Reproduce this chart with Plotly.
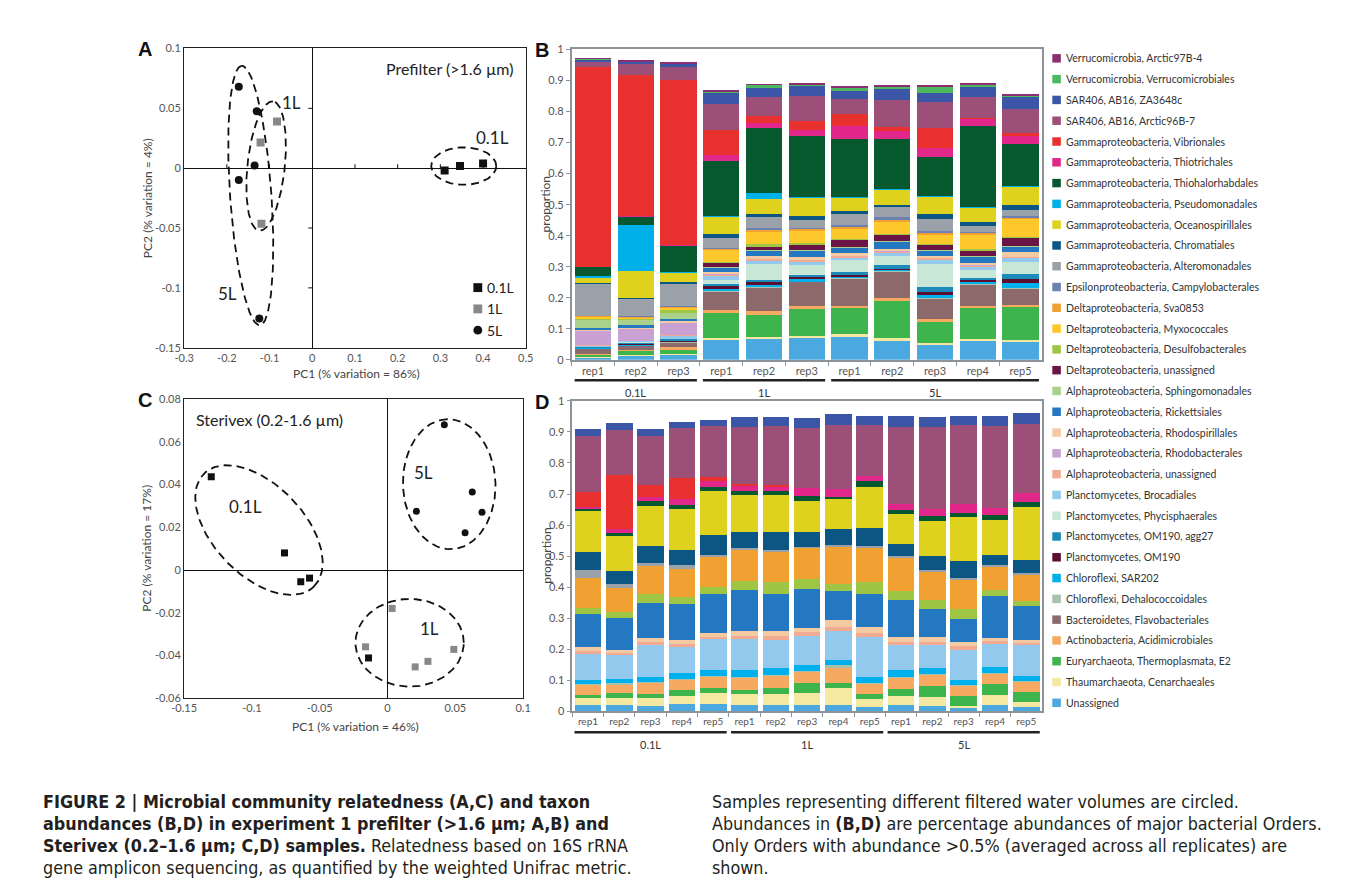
import math
import plotly.graph_objects as go

W, H = 1357, 881
def fx(p): return p / W
def fy(p): return 1 - p / H

# ---------------- taxa (legend order, top to bottom) ----------------
taxa = [
    "Verrucomicrobia, Arctic97B-4", "Verrucomicrobia, Verrucomicrobiales",
    "SAR406, AB16, ZA3648c", "SAR406, AB16, Arctic96B-7",
    "Gammaproteobacteria, Vibrionales", "Gammaproteobacteria, Thiotrichales",
    "Gammaproteobacteria, Thiohalorhabdales", "Gammaproteobacteria, Pseudomonadales",
    "Gammaproteobacteria, Oceanospirillales", "Gammaproteobacteria, Chromatiales",
    "Gammaproteobacteria, Alteromonadales", "Epsilonproteobacteria, Campylobacterales",
    "Deltaproteobacteria, Sva0853", "Deltaproteobacteria, Myxococcales",
    "Deltaproteobacteria, Desulfobacterales", "Deltaproteobacteria, unassigned",
    "Alphaproteobacteria, Sphingomonadales", "Alphaproteobacteria, Rickettsiales",
    "Alphaproteobacteria, Rhodospirillales", "Alphaproteobacteria, Rhodobacterales",
    "Alphaproteobacteria, unassigned", "Planctomycetes, Brocadiales",
    "Planctomycetes, Phycisphaerales", "Planctomycetes, OM190, agg27",
    "Planctomycetes, OM190", "Chloroflexi, SAR202", "Chloroflexi, Dehalococcoidales",
    "Bacteroidetes, Flavobacteriales", "Actinobacteria, Acidimicrobiales",
    "Euryarchaeota, Thermoplasmata, E2", "Thaumarchaeota, Cenarchaeales", "Unassigned",
]
taxa_colors = [
    "#8b2f72", "#4cb860", "#3b56a6", "#9c5078", "#e8302e", "#e2278b", "#06592f",
    "#00b1e9", "#ded21f", "#0b5682", "#9aa1a9", "#6c80b2", "#f0a131", "#fec82c",
    "#9fc545", "#6b1446", "#a9d18c", "#2477c1", "#f4caa3", "#c9a2d3", "#f2aa92",
    "#92c9ec", "#c9e7d6", "#1b8bb9", "#5b1030", "#00b0ec", "#a9c1aa", "#8c6a6c",
    "#f5a961", "#3db54c", "#f5e9a2", "#4ba9e0",
]

# ---------------- panel B (prefilter) ----------------
b_groups = ["0.1L", "0.1L", "0.1L", "1L", "1L", "1L", "5L", "5L", "5L", "5L", "5L"]
b_reps = ["rep1", "rep2", "rep3", "rep1", "rep2", "rep3", "rep1", "rep2", "rep3", "rep4", "rep5"]
b_unassigned = [.007, .014, .015, .063, .067, .072, .075, .062, .048, .060, .058]
b_thaum = [.002, .003, .003, .006, .006, .006, .007, .007, .005, .008, .005]
b_eury = [.006, .010, .014, .083, .072, .085, .084, .121, .069, .098, .107]
b_actino = [.005, .005, .008, .008, .013, .012, .006, .010, .010, .009, .008]
b_bact = [.015, .013, .015, .058, .074, .075, .089, .083, .064, .065, .050]
b_dehalo = [.001, .001, .002, .003, .002, .002, .002, .002, .003, .003, .002]
b_sar202 = [.001, .002, .002, .008, .006, .009, .003, .003, .011, .008, .019]
b_om190 = [.001, .002, .003, .008, .012, .005, .007, .006, .010, .006, .010]
b_agg27 = [.002, .004, .004, .008, .006, .006, .010, .013, .016, .007, .019]
b_phyc = [.002, .002, .002, .013, .050, .034, .039, .028, .074, .025, .036]
b_broc = [.004, .004, .009, .013, .012, .010, .007, .010, .012, .010, .013]
b_alphaun = [.002, .002, .003, .004, .004, .005, .004, .003, .005, .004, .003]
b_rhodob = [.044, .036, .040, .002, .002, .002, .002, .002, .002, .002, .002]
b_rhodosp = [.004, .005, .005, .006, .008, .008, .008, .008, .007, .008, .017]
b_rick = [.007, .010, .007, .013, .016, .020, .018, .022, .015, .018, .016]
b_sphingo = [.025, .015, .018, .004, .003, .004, .004, .003, .003, .003, .003]
b_deltaun = [.002, .002, .002, .012, .012, .014, .020, .020, .015, .018, .023]
b_desulfo = [.002, .002, .008, .004, .008, .007, .004, .004, .003, .004, .004]
b_myxo = [.005, .004, .007, .038, .040, .040, .034, .038, .030, .046, .058]
b_sva = [.004, .003, .004, .004, .005, .005, .005, .007, .006, .007, .005]
b_eps = [.001, .001, .003, .003, .006, .005, .006, .008, .006, .004, .004]
b_altero = [.103, .055, .070, .030, .035, .026, .036, .033, .040, .018, .020]
b_chrom = [.004, .004, .006, .013, .011, .011, .008, .007, .016, .012, .016]
b_ocean = [.016, .088, .031, .055, .049, .060, .044, .048, .055, .046, .060]
b_pseudo = [.006, .147, .003, .003, .018, .002, .002, .002, .002, .003, .002]
b_thiohal = [.027, .027, .083, .179, .210, .196, .188, .160, .125, .260, .137]
b_thiotr = [.001, .001, .004, .018, .015, .020, .040, .026, .029, .023, .025]
b_vibrio = [.644, .457, .531, .082, .023, .030, .039, .013, .066, .003, .010]
b_arctic96 = [.017, .034, .040, .083, .061, .078, .048, .087, .084, .068, .075]
b_za = [.007, .007, .010, .035, .031, .032, .027, .037, .030, .033, .040]
b_verr = [.001, .001, .002, .004, .007, .006, .010, .006, .017, .006, .004]
b_arctic97 = [.002, .002, .004, .008, .003, .004, .005, .005, .008, .006, .005]

# ---------------- panel D (Sterivex) ----------------
d_groups = ["0.1L"] * 5 + ["1L"] * 5 + ["5L"] * 5
d_reps = ["rep1", "rep2", "rep3", "rep4", "rep5"] * 3
d_unassigned = [.021, .019, .017, .023, .023, .019, .021, .019, .021, .013, .019, .016, .011, .021, .014]
d_thaum = [.023, .025, .027, .027, .037, .036, .034, .039, .053, .026, .029, .030, .007, .030, .015]
d_eury = [.009, .016, .012, .018, .014, .015, .019, .032, .016, .016, .023, .037, .030, .036, .034]
d_actino = [.032, .028, .036, .034, .038, .038, .040, .037, .050, .035, .037, .035, .035, .035, .033]
d_bact = [0, 0, 0, 0, 0, 0, 0, 0, 0, 0, 0, 0, 0, 0, 0]
d_dehalo = [.003, .002, .002, .003, .002, .002, .002, .002, .008, .002, .003, .003, .002, .002, .002]
d_sar202 = [.012, .014, .016, .017, .018, .022, .024, .021, .018, .019, .021, .017, .015, .019, .016]
d_om190 = [0, 0, 0, 0, 0, 0, 0, 0, 0, 0, 0, 0, 0, 0, 0]
d_agg27 = [0, 0, 0, 0, 0, 0, 0, 0, 0, 0, 0, 0, 0, 0, 0]
d_phyc = [0, 0, 0, 0, 0, 0, 0, 0, 0, 0, 0, 0, 0, 0, 0]
d_broc = [.085, .078, .104, .084, .100, .103, .090, .091, .092, .127, .083, .077, .099, .076, .098]
d_alphaun = [.010, .006, .008, .010, .008, .006, .013, .013, .015, .014, .009, .007, .011, .006, .008]
d_rhodob = [0, 0, 0, 0, 0, 0, 0, 0, 0, 0, 0, 0, 0, 0, 0]
d_rhodosp = [.012, .010, .014, .014, .012, .017, .016, .015, .020, .018, .014, .016, .012, .011, .011]
d_rick = [.107, .104, .113, .116, .126, .134, .119, .126, .095, .108, .122, .093, .076, .136, .108]
d_sphingo = [0, 0, 0, 0, 0, 0, 0, 0, 0, 0, 0, 0, 0, 0, 0]
d_deltaun = [0, 0, 0, 0, 0, 0, 0, 0, 0, 0, 0, 0, 0, 0, 0]
d_desulfo = [.019, .018, .030, .023, .022, .028, .037, .031, .022, .038, .029, .026, .030, .020, .016]
d_myxo = [0, 0, 0, 0, 0, 0, 0, 0, 0, 0, 0, 0, 0, 0, 0]
d_sva = [.097, .077, .090, .090, .096, .100, .100, .101, .122, .112, .108, .093, .097, .076, .087]
d_eps = [0, 0, 0, 0, 0, 0, 0, 0, 0, 0, 0, 0, 0, 0, 0]
d_altero = [.025, .014, .010, .011, .009, .005, .006, .003, .005, .006, .003, .004, .004, .003, .003]
d_chrom = [.058, .041, .055, .050, .064, .054, .057, .049, .050, .058, .040, .045, .055, .034, .043]
d_ocean = [.132, .114, .129, .133, .140, .117, .120, .099, .096, .132, .095, .113, .142, .111, .169]
d_pseudo = [0, 0, 0, 0, 0, 0, 0, 0, 0, 0, 0, 0, 0, 0, 0]
d_thiohal = [.009, .009, .015, .011, .014, .013, .013, .016, .009, .018, .013, .016, .014, .016, .016]
d_thiotr = [.005, .012, .013, .021, .018, .019, .014, .024, .025, .016, .019, .025, .027, .024, .030]
d_vibrio = [.049, .173, .037, .067, .013, .004, .004, 0, 0, 0, 0, 0, 0, 0, 0]
d_arctic96 = [.179, .147, .160, .160, .164, .183, .191, .196, .204, .166, .248, .262, .256, .262, .224]
d_za = [.021, .021, .020, .021, .022, .034, .028, .030, .038, .028, .036, .034, .029, .034, .034]
d_verr = [0, 0, 0, 0, 0, 0, 0, 0, 0, 0, 0, 0, 0, 0, 0]
d_arctic97 = [0, 0, 0, 0, 0, 0, 0, 0, 0, 0, 0, 0, 0, 0, 0]

# ---------------- PCoA scores ----------------
a_x_01 = [0.310, 0.346, 0.400]
a_y_01 = [-0.002, 0.0018, 0.004]
a_x_1 = [-0.0825, -0.121, -0.119]
a_y_1 = [0.039, 0.0215, -0.0465]
a_x_5 = [-0.172, -0.130, -0.135, -0.172, -0.124]
a_y_5 = [0.068, 0.0476, 0.0023, -0.0098, -0.1256]

c_x_01 = [-0.130, -0.076, -0.064, -0.0575, -0.014]
c_y_01 = [0.0437, 0.008, -0.0055, -0.0038, -0.0412]
c_x_1 = [0.0034, -0.0162, 0.0204, 0.0298, 0.0489]
c_y_1 = [-0.018, -0.036, -0.0454, -0.0428, -0.0372]
c_x_5 = [0.0419, 0.0625, 0.0697, 0.0213, 0.0572]
c_y_5 = [0.068, 0.0365, 0.0271, 0.0275, 0.0175]

# ---------------- layout geometry (pixels) ----------------
A_box = (165.7, 512.7, 34.0, 337.7)     # left, right, top, bottom
C_box = (165.7, 510.0, 390.0, 693.3)
B_box = (559.3, 1037.0, 35.0, 350.0)
D_box = (560.0, 1037.0, 391.7, 706.7)
A_xr, A_yr = (-0.3, 0.5), (-0.15, 0.1)
C_xr, C_yr = (-0.15, 0.1), (-0.06, 0.08)

# ellipse decorations: centre (data), semi-axes (px), rotation (deg)
a_ellipses = [(-0.144, -0.0229, 132, 21, 94), (-0.108, 0.0018, 66, 19, 84), (0.3548, 0.0018, 33, 19, 0)]
c_ellipses = [(-0.0948, 0.0187, 80, 46, -46), (0.0455, 0.0402, 66, 47, 92), (0.0163, -0.0341, 55, 44.5, 0)]

FONT = "Lato, Open Sans, sans-serif"
TICKC = "#555555"
FRAME = "#8d9399"

fig = go.Figure()

b_series = [b_arctic97, b_verr, b_za, b_arctic96, b_vibrio, b_thiotr, b_thiohal, b_pseudo,
            b_ocean, b_chrom, b_altero, b_eps, b_sva, b_myxo, b_desulfo, b_deltaun,
            b_sphingo, b_rick, b_rhodosp, b_rhodob, b_alphaun, b_broc, b_phyc, b_agg27,
            b_om190, b_sar202, b_dehalo, b_bact, b_actino, b_eury, b_thaum, b_unassigned]
d_series = [d_arctic97, d_verr, d_za, d_arctic96, d_vibrio, d_thiotr, d_thiohal, d_pseudo,
            d_ocean, d_chrom, d_altero, d_eps, d_sva, d_myxo, d_desulfo, d_deltaun,
            d_sphingo, d_rick, d_rhodosp, d_rhodob, d_alphaun, d_broc, d_phyc, d_agg27,
            d_om190, d_sar202, d_dehalo, d_bact, d_actino, d_eury, d_thaum, d_unassigned]

b_ids = [g + " " + r for g, r in zip(b_groups, b_reps)]
d_ids = [g + " " + r for g, r in zip(d_groups, d_reps)]

# stacked bars: bottom of stack = last legend entry
for i in range(len(taxa) - 1, -1, -1):
    fig.add_trace(go.Bar(x=b_ids, y=b_series[i], marker=dict(color=taxa_colors[i], line=dict(width=0)),
                         name=taxa[i], showlegend=False, xaxis="x2", yaxis="y2"))
    fig.add_trace(go.Bar(x=d_ids, y=d_series[i], marker=dict(color=taxa_colors[i], line=dict(width=0)),
                         name=taxa[i], showlegend=False, xaxis="x4", yaxis="y4"))


def ellipse_xy(e, box, xr, yr, n=160):
    cx, cy, a, b, ang = e
    sx = (box[1] - box[0]) / (xr[1] - xr[0])
    sy = (box[3] - box[2]) / (yr[1] - yr[0])
    th = math.radians(ang)
    xs, ys = [], []
    for k in range(n + 1):
        t = 2 * math.pi * k / n
        dx = a * math.cos(th) * math.cos(t) - b * math.sin(th) * math.sin(t)
        dy = a * math.sin(th) * math.cos(t) + b * math.cos(th) * math.sin(t)
        xs.append(cx + dx / sx)
        ys.append(cy + dy / sy)
    return xs, ys


for e in a_ellipses:
    ex, ey = ellipse_xy(e, A_box, A_xr, A_yr)
    fig.add_trace(go.Scatter(x=ex, y=ey, mode="lines", line=dict(color="#111", width=1.8, dash="8px,5px"),
                             hoverinfo="skip", showlegend=False, xaxis="x", yaxis="y"))
for e in c_ellipses:
    ex, ey = ellipse_xy(e, C_box, C_xr, C_yr)
    fig.add_trace(go.Scatter(x=ex, y=ey, mode="lines", line=dict(color="#111", width=1.8, dash="8px,5px"),
                             hoverinfo="skip", showlegend=False, xaxis="x3", yaxis="y3"))

GRAYPT = "#888888"
fig.add_trace(go.Scatter(x=a_x_01, y=a_y_01, mode="markers", marker=dict(symbol="square", size=8, color="#111"),
                         showlegend=False, xaxis="x", yaxis="y"))
fig.add_trace(go.Scatter(x=a_x_1, y=a_y_1, mode="markers", marker=dict(symbol="square", size=8, color=GRAYPT),
                         showlegend=False, xaxis="x", yaxis="y"))
fig.add_trace(go.Scatter(x=a_x_5, y=a_y_5, mode="markers", marker=dict(symbol="circle", size=8, color="#111"),
                         showlegend=False, xaxis="x", yaxis="y"))
fig.add_trace(go.Scatter(x=c_x_01, y=c_y_01, mode="markers", marker=dict(symbol="square", size=7, color="#111"),
                         showlegend=False, xaxis="x3", yaxis="y3"))
fig.add_trace(go.Scatter(x=c_x_1, y=c_y_1, mode="markers", marker=dict(symbol="square", size=7, color=GRAYPT),
                         showlegend=False, xaxis="x3", yaxis="y3"))
fig.add_trace(go.Scatter(x=c_x_5, y=c_y_5, mode="markers", marker=dict(symbol="circle", size=7, color="#111"),
                         showlegend=False, xaxis="x3", yaxis="y3"))


def num_label(v):
    return "%g" % v


def scatter_axes(box, xr, yr, xt, yt):
    xa = dict(domain=[fx(box[0]), fx(box[1])], range=list(xr), showgrid=False, zeroline=True,
              zerolinecolor="#111", zerolinewidth=1.2, showline=True, mirror=True, linecolor="#222",
              linewidth=1.2, ticks="", tickvals=xt, ticktext=[num_label(v) for v in xt],
              tickfont=dict(family=FONT, size=11, color=TICKC), fixedrange=True)
    ya = dict(domain=[fy(box[3]), fy(box[2])], range=list(yr), showgrid=False, zeroline=True,
              zerolinecolor="#111", zerolinewidth=1.2, showline=True, mirror=True, linecolor="#222",
              linewidth=1.2, ticks="", tickvals=yt, ticktext=[num_label(v) for v in yt],
              tickfont=dict(family=FONT, size=11, color=TICKC), fixedrange=True)
    return xa, ya


a_xt = [-0.3, -0.2, -0.1, 0, 0.1, 0.2, 0.3, 0.4, 0.5]
a_yt = [-0.15, -0.1, -0.05, 0, 0.05, 0.1]
c_xt = [-0.15, -0.1, -0.05, 0, 0.05, 0.1]
c_yt = [-0.06, -0.04, -0.02, 0, 0.02, 0.04, 0.06, 0.08]
xa1, ya1 = scatter_axes(A_box, A_xr, A_yr, a_xt, a_yt)
xa3, ya3 = scatter_axes(C_box, C_xr, C_yr, c_xt, c_yt)
xa1["anchor"] = "y"; ya1["anchor"] = "x"
xa3["anchor"] = "y3"; ya3["anchor"] = "x3"

prop_vals = [0, 0.1, 0.2, 0.3, 0.4, 0.5, 0.6, 0.7, 0.8, 0.9, 1]


def bar_axes(box, ids, reps, xanchor, yanchor, tsize):
    xa = dict(domain=[fx(box[0]), fx(box[1])], type="category", categoryorder="array", categoryarray=ids,
              tickvals=ids, ticktext=reps, tickson="boundaries", ticks="outside", ticklen=4,
              tickcolor=FRAME, showline=True, mirror=True, linecolor=FRAME, linewidth=1.6,
              tickfont=dict(family=FONT, size=tsize, color=TICKC), anchor=yanchor, showgrid=False,
              fixedrange=True)
    ya = dict(domain=[fy(box[3]), fy(box[2])], range=[0, 1], tickvals=prop_vals,
              ticktext=[num_label(v) for v in prop_vals], ticks="outside", ticklen=4, tickcolor=FRAME,
              showline=True, mirror=True, linecolor=FRAME, linewidth=1.6, showgrid=False, zeroline=False,
              tickfont=dict(family=FONT, size=11, color=TICKC), anchor=xanchor, fixedrange=True)
    return xa, ya


xa2, ya2 = bar_axes(B_box, b_ids, b_reps, "x2", "y2", 11)
xa4, ya4 = bar_axes(D_box, d_ids, d_reps, "x4", "y4", 10)

shapes = []
annotations = []

# small tick marks on the zero lines of panel A
sxA = (A_box[1] - A_box[0]) / (A_xr[1] - A_xr[0])
syA = (A_box[3] - A_box[2]) / (A_yr[1] - A_yr[0])
for v in [-0.1, -0.05, 0.05]:
    shapes.append(dict(type="line", xref="x", yref="y", x0=-4 / sxA, x1=0, y0=v, y1=v,
                       line=dict(color="#111", width=1)))
for v in [-0.2, -0.1, 0.1, 0.2, 0.3, 0.4]:
    shapes.append(dict(type="line", xref="x", yref="y", x0=v, x1=v, y0=0, y1=4 / syA,
                       line=dict(color="#111", width=1)))


# group underlines and labels
def group_marks(groups, xref, line_py, label_py):
    order = []
    for g in groups:
        if g not in order:
            order.append(g)
    for g in order:
        idx = [k for k, gg in enumerate(groups) if gg == g]
        x0, x1 = idx[0] - 0.43, idx[-1] + 0.43
        shapes.append(dict(type="line", xref=xref, yref="paper", x0=x0, x1=x1, y0=fy(line_py), y1=fy(line_py),
                           line=dict(color="#222", width=2.6)))
        annotations.append(dict(xref=xref, yref="paper", x=(idx[0] + idx[-1]) / 2, y=fy(label_py), text=g,
                                showarrow=False, font=dict(family=FONT, size=11, color="#333"),
                                xanchor="center", yanchor="middle"))


group_marks(b_groups, "x2", 370.7, 383)
group_marks(d_groups, "x4", 728.0, 740)

# custom legend on the right
for i, (name, col) in enumerate(zip(taxa, taxa_colors)):
    yc = 44 + 21.1 * i
    shapes.append(dict(type="rect", xref="paper", yref="paper", x0=fx(1047.5), x1=fx(1056.2),
                       y0=fy(yc + 4.3), y1=fy(yc - 4.3), fillcolor=col, line=dict(width=0)))
    annotations.append(dict(xref="paper", yref="paper", x=fx(1059), y=fy(yc), text=name, showarrow=False,
                            xanchor="left", yanchor="middle", font=dict(family=FONT, size=10.5, color="#333")))

# panel A symbol key
key_labels = ["0.1L", "1L", "5L"]
key_cols = ["#111", GRAYPT, "#111"]
key_types = ["rect", "rect", "circle"]
for k, (lab, col, typ) in enumerate(zip(key_labels, key_cols, key_types)):
    yc = 276.7 + 21.6 * k
    shapes.append(dict(type=typ, xref="paper", yref="paper", x0=fx(459.5), x1=fx(468.5),
                       y0=fy(yc + 4.5), y1=fy(yc - 4.5), fillcolor=col, line=dict(width=0)))
    annotations.append(dict(xref="paper", yref="paper", x=fx(471.5), y=fy(yc), text=lab, showarrow=False,
                            xanchor="left", yanchor="middle", font=dict(family=FONT, size=14, color="#222")))


def ann(x, y, text, size, color="#222", xanchor="center", angle=0, bold=False, family=FONT, xref="paper",
        yref="paper"):
    t = "<b>" + text + "</b>" if bold else text
    annotations.append(dict(xref=xref, yref=yref, x=x, y=y, text=t, showarrow=False, textangle=angle,
                            xanchor=xanchor, yanchor="middle", font=dict(family=family, size=size, color=color)))


# panel letters
ann(fx(126), fy(35), "A", 20, "#111", bold=True, family="Liberation Sans, Arial")
ann(fx(529), fy(36), "B", 20, "#111", bold=True, family="Liberation Sans, Arial")
ann(fx(126), fy(391), "C", 20, "#111", bold=True, family="Liberation Sans, Arial")
ann(fx(529), fy(393), "D", 20, "#111", bold=True, family="Liberation Sans, Arial")

# axis titles
ann(fx(128), fy((A_box[2] + A_box[3]) / 2), "PC2 (% variation = 4%)", 12, "#444", angle=-90)
ann(fx(341), fy(364), "PC1 (% variation = 86%)", 12, "#444")
ann(fx(128), fy((C_box[2] + C_box[3]) / 2), "PC2 (% variation = 17%)", 12, "#444", angle=-90)
ann(fx(340), fy(722), "PC1 (% variation = 46%)", 12, "#444")
ann(fx(533), fy((B_box[2] + B_box[3]) / 2), "proportion", 12, "#444", angle=-90)
ann(fx(533), fy((D_box[2] + D_box[3]) / 2), "proportion", 12, "#444", angle=-90)

# in-panel texts
ann(fx(503), fy(54), "Prefilter (>1.6 µm)", 16, "#222", xanchor="right")
ann(fx(176), fy(411), "Sterivex (0.2-1.6 µm)", 16, "#222", xanchor="left")
ann(-0.048, 0.055, "1L", 17, "#222", xref="x", yref="y")
ann(0.4228, 0.0258, "0.1L", 17, "#222", xref="x", yref="y")
ann(-0.198, -0.1047, "5L", 17, "#222", xref="x", yref="y")
ann(-0.105, 0.0297, "0.1L", 17, "#222", xref="x3", yref="y3")
ann(0.0262, 0.0457, "5L", 17, "#222", xref="x3", yref="y3")
ann(0.031, -0.0273, "1L", 17, "#222", xref="x3", yref="y3")

# caption
CAP = "DejaVu Sans Condensed, Liberation Sans Narrow, sans-serif"
cap_left = [
    "<b>FIGURE 2 | Microbial community relatedness (A,C) and taxon</b>",
    "<b>abundances (B,D) in experiment 1 prefilter (>1.6 µm; A,B) and</b>",
    "<b>Sterivex (0.2–1.6 µm; C,D) samples.</b> Relatedness based on 16S rRNA",
    "gene amplicon sequencing, as quantified by the weighted Unifrac metric.",
]
cap_right = [
    "Samples representing different filtered water volumes are circled.",
    "Abundances in <b>(B,D)</b> are percentage abundances of major bacterial Orders.",
    "Only Orders with abundance >0.5% (averaged across all replicates) are",
    "shown.",
]
for k, line in enumerate(cap_left):
    ann(fx(20), fy(798 + 22.3 * k), line, 17.8, "#231f20", xanchor="left", family=CAP)
for k, line in enumerate(cap_right):
    ann(fx(700), fy(798 + 22.3 * k), line, 17.8, "#231f20", xanchor="left", family=CAP)

fig.update_layout(
    width=W, height=H, autosize=False, margin=dict(l=0, r=0, t=0, b=0),
    paper_bgcolor="white", plot_bgcolor="white", barmode="stack", bargap=0.15,
    xaxis=xa1, yaxis=ya1, xaxis2=xa2, yaxis2=ya2, xaxis3=xa3, yaxis3=ya3, xaxis4=xa4, yaxis4=ya4,
    shapes=shapes, annotations=annotations, showlegend=False,
    font=dict(family=FONT),
)

fig.write_html("out.html")
